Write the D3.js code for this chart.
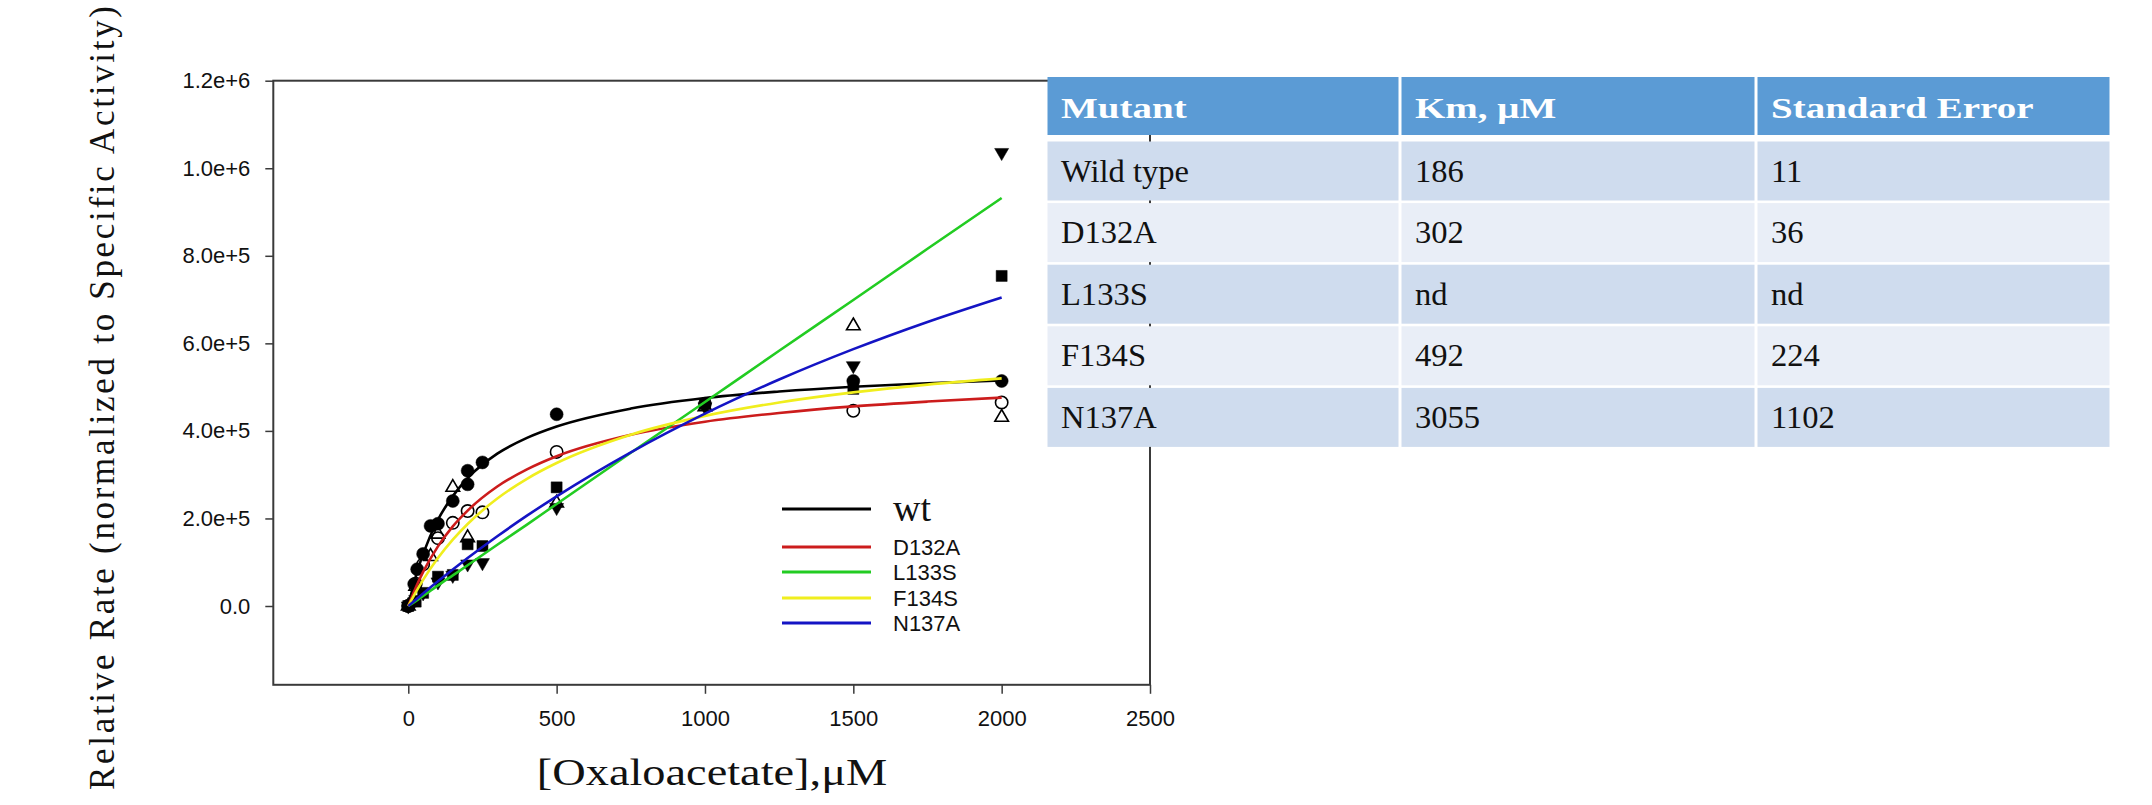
<!DOCTYPE html>
<html>
<head>
<meta charset="utf-8">
<script src="https://cdn.jsdelivr.net/npm/d3@7/dist/d3.min.js"></script>
<style>
  body { margin: 0; background: #ffffff; }
</style>
</head>
<body>
<div id="grafico"></div>
<script>
const ancho = 2152;
const alto = 805;

// Curvas ajustadas
const concCurva = [0, 25, 50, 100, 150, 200, 300, 400, 500, 750, 1000, 1250, 1500, 1750, 2000];
const curvaWt    = [0, 66700, 119000, 197000, 251000, 292000, 348000, 384000, 410000, 451000, 475000, 490000, 501000, 509000, 515000];
const curvaD132A = [0, 41900, 77800, 136300, 182000, 218000, 273000, 312000, 342000, 391000, 421000, 441000, 456000, 467000, 476000];
const curvaL133S = [0, 11000, 23000, 47000, 70000, 93000, 140000, 186000, 233000, 350000, 466000, 583000, 699000, 816000, 932000];
const curvaF134S = [0, 31300, 59800, 109500, 151400, 187300, 245500, 290600, 326600, 391300, 434300, 465000, 488000, 505800, 520000];
const curvaN137A = [0, 14500, 28700, 56500, 83400, 109500, 159300, 206300, 250600, 351200, 439500, 517400, 586800, 649000, 705000];

// Puntos medidos
const xWt    = [0, 20, 30, 50, 75, 100, 150, 200, 200, 250, 500, 1000, 1500, 2000];
const yWt    = [0, 50000, 84000, 119000, 183000, 188000, 240000, 278000, 309000, 328000, 438000, 462000, 514000, 514000];
const xD132A = [0, 25, 50, 100, 150, 200, 250, 500, 1500, 2000];
const yD132A = [0, 51000, 95000, 155000, 190000, 217000, 214000, 352000, 446000, 465000];
const xL133S = [0, 25, 50, 100, 150, 200, 250, 500, 1000, 1500, 2000];
const yL133S = [0, 15000, 30000, 55000, 70000, 96000, 99000, 225000, 455000, 549000, 1036000];
const xF134S = [0, 25, 75, 100, 150, 200, 500, 1000, 1500, 2000];
const yF134S = [0, 45000, 113000, 164000, 271000, 156000, 235000, 455000, 640000, 431000];
const xN137A = [0, 25, 50, 100, 150, 200, 250, 500, 1000, 1500, 2000];
const yN137A = [0, 10000, 30000, 67000, 71000, 141000, 137000, 271000, 461000, 496000, 754000];

const nombres = ["wt", "D132A", "L133S", "F134S", "N137A"];
const colores = ["#000000", "#cc1c1c", "#22cc22", "#f0ee1e", "#1414c4"];

// Ejes
const ticksX = [0, 500, 1000, 1500, 2000, 2500];
const ticksY = [0, 200000, 400000, 600000, 800000, 1000000, 1200000];

// Tabla
const encabezados = ["Mutant", "Km, \u03bcM", "Standard Error"];
const mutantes = ["Wild type", "D132A", "L133S", "F134S", "N137A"];
const kmValores = ["186", "302", "nd", "492", "3055"];
const errores = ["11", "36", "nd", "224", "1102"];

const series = [
  { nombre: nombres[0], color: colores[0], curva: curvaWt,    xs: xWt,    ys: yWt,    simbolo: "circulo" },
  { nombre: nombres[1], color: colores[1], curva: curvaD132A, xs: xD132A, ys: yD132A, simbolo: "circuloAbierto" },
  { nombre: nombres[2], color: colores[2], curva: curvaL133S, xs: xL133S, ys: yL133S, simbolo: "trianguloAbajo" },
  { nombre: nombres[3], color: colores[3], curva: curvaF134S, xs: xF134S, ys: yF134S, simbolo: "trianguloAbierto" },
  { nombre: nombres[4], color: colores[4], curva: curvaN137A, xs: xN137A, ys: yN137A, simbolo: "cuadrado" }
];

const svg = d3.select("#grafico")
  .append("svg")
  .attr("width", ancho)
  .attr("height", alto)
  .style("display", "block");

const izq = 273.3, der = 1150, arriba = 80.7, abajo = 684.8;

const x = d3.scaleLinear().domain([-455, 2500]).range([izq, der]);
const y = d3.scaleLinear().domain([-180000, 1200000]).range([abajo, arriba]);

// Marco
svg.append("rect")
  .attr("x", izq)
  .attr("y", arriba)
  .attr("width", der - izq)
  .attr("height", abajo - arriba)
  .attr("fill", "none")
  .attr("stroke", "#3a3a3a")
  .attr("stroke-width", 2);

// Eje Y
const ejeY = svg.append("g")
  .attr("transform", `translate(${izq},0)`)
  .call(d3.axisLeft(y)
    .tickValues(ticksY)
    .tickSize(8)
    .tickPadding(15)
    .tickFormat(d => d === 0 ? "0.0" : d3.format(".1e")(d)));
ejeY.select(".domain").remove();

// Eje X
const ejeX = svg.append("g")
  .attr("transform", `translate(0,${abajo})`)
  .call(d3.axisBottom(x)
    .tickValues(ticksX)
    .tickSize(9)
    .tickPadding(17)
    .tickFormat(d3.format("d")));
ejeX.select(".domain").remove();

svg.selectAll(".tick line").attr("stroke", "#3a3a3a").attr("stroke-width", 1.5);
svg.selectAll(".tick text")
  .attr("fill", "#111")
  .style("font-family", "'Liberation Sans', Arial, sans-serif")
  .style("font-size", "22px");

// Símbolos
const simbolos = {
  circulo:          { tipo: d3.symbolCircle,   tam: 133, relleno: "#000", rot: 0 },
  circuloAbierto:   { tipo: d3.symbolCircle,   tam: 120, relleno: "none", rot: 0 },
  trianguloAbajo:   { tipo: d3.symbolTriangle, tam: 85,  relleno: "#000", rot: 180 },
  trianguloAbierto: { tipo: d3.symbolTriangle, tam: 80,  relleno: "none", rot: 0 },
  cuadrado:         { tipo: d3.symbolSquare,   tam: 121, relleno: "#000", rot: 0 }
};

series.forEach(s => {
  const sim = simbolos[s.simbolo];
  const puntos = s.xs.map((v, i) => ({ x: v, y: s.ys[i] }));
  svg.append("g")
    .selectAll("path")
    .data(puntos)
    .enter().append("path")
    .attr("d", d3.symbol().type(sim.tipo).size(sim.tam))
    .attr("transform", d => `translate(${x(d.x)},${y(d.y)}) rotate(${sim.rot})`)
    .attr("fill", sim.relleno)
    .attr("stroke", "#000")
    .attr("stroke-width", sim.relleno === "none" ? 1.6 : 0.5);
});

// Curvas
const linea = d3.line()
  .x(d => x(d.x))
  .y(d => y(d.y))
  .curve(d3.curveMonotoneX);

series.forEach(s => {
  const datos = concCurva.map((c, i) => ({ x: c, y: s.curva[i] }));
  svg.append("path")
    .datum(datos)
    .attr("d", linea)
    .attr("fill", "none")
    .attr("stroke", s.color)
    .attr("stroke-width", 2.6);
});

// Leyenda
const leyendaY = [509, 547, 572, 598, 623];
series.forEach((s, i) => {
  svg.append("line")
    .attr("x1", 782).attr("x2", 871)
    .attr("y1", leyendaY[i]).attr("y2", leyendaY[i])
    .attr("stroke", s.color)
    .attr("stroke-width", 3);
  const t = svg.append("text")
    .attr("x", 893)
    .attr("fill", "#111")
    .text(s.nombre);
  if (i === 0) {
    t.attr("y", leyendaY[i] + 12)
      .style("font-family", "'Liberation Serif', 'Times New Roman', serif")
      .style("font-size", "38px");
  } else {
    t.attr("y", leyendaY[i] + 7.5)
      .style("font-family", "'Liberation Sans', Arial, sans-serif")
      .style("font-size", "22px");
  }
});

// Títulos de ejes
svg.append("text")
  .attr("transform", "translate(712,785) scale(1.22,1)")
  .attr("text-anchor", "middle")
  .style("font-family", "'Liberation Serif', 'Times New Roman', serif")
  .style("font-size", "38px")
  .attr("fill", "#111")
  .text("[Oxaloacetate],\u03bcM");

svg.append("text")
  .attr("transform", "translate(114,790) rotate(-90)")
  .attr("text-anchor", "start")
  .attr("textLength", 784)
  .attr("lengthAdjust", "spacing")
  .style("font-family", "'Liberation Serif', 'Times New Roman', serif")
  .style("font-size", "35px")
  .attr("fill", "#111")
  .text("Relative Rate (normalized to Specific Activity)");

// Tabla
const bordesCol = [1046, 1400, 1756, 2111];
const filaArriba = 141.5, pasoFila = 61.6, altoFila = 59;
const filas = mutantes.map((m, i) => [m, kmValores[i], errores[i]]);

function dibujarCelda(x0, x1, y0, alto, color) {
  svg.append("rect")
    .attr("x", x0 + 1.5)
    .attr("y", y0)
    .attr("width", x1 - x0 - 3)
    .attr("height", alto)
    .attr("fill", color);
}

function textoTabla(txt, x0, yBase, color, negrita) {
  svg.append("text")
    .attr("transform", `translate(${x0},${yBase}) scale(${negrita ? 1.3 : 1.05},1)`)
    .style("font-family", "'Liberation Serif', 'Times New Roman', serif")
    .style("font-size", negrita ? "30px" : "31px")
    .style("font-weight", negrita ? "bold" : "normal")
    .attr("fill", color)
    .text(txt);
}

encabezados.forEach((h, j) => {
  dibujarCelda(bordesCol[j], bordesCol[j + 1], 77, 58, "#5b9bd5");
  textoTabla(h, bordesCol[j] + 15, 118, "#ffffff", true);
});

filas.forEach((fila, i) => {
  const y0 = filaArriba + i * pasoFila;
  const fondo = i % 2 === 0 ? "#cfdcee" : "#e9eef7";
  fila.forEach((celda, j) => {
    dibujarCelda(bordesCol[j], bordesCol[j + 1], y0, altoFila, fondo);
    textoTabla(celda, bordesCol[j] + 15, y0 + 40, "#111", false);
  });
});
</script>
</body>
</html>
